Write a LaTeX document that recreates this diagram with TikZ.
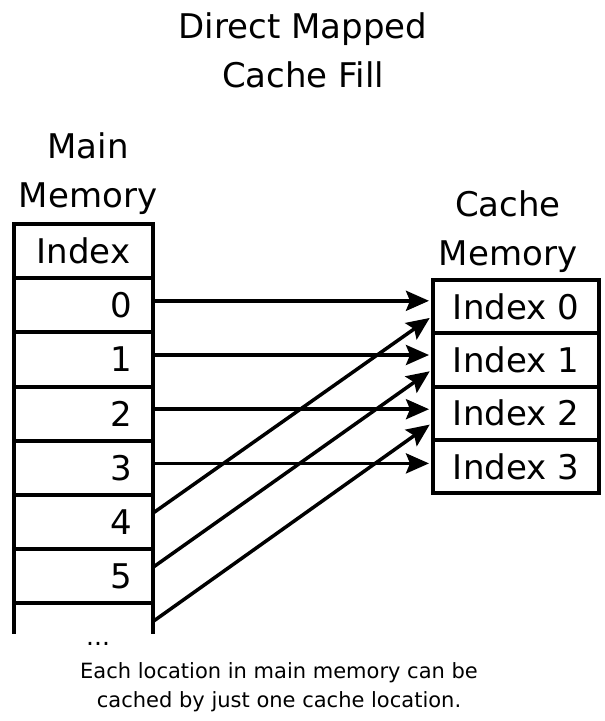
\documentclass[tikz,border=0pt]{standalone}
\usepackage{fontspec}
\setmainfont{DejaVu Sans}
\usetikzlibrary{arrows.meta, positioning}

\tikzset{
  memcell/.style={draw, line width=4pt, rectangle, minimum width=139pt,
    minimum height=54.2pt, inner xsep=21pt, inner ysep=0pt, outer sep=0pt,
    font=\fontsize{34}{40}\selectfont},
  numcell/.style={memcell, text width=97pt, align=right},
  cachecell/.style={draw, line width=4pt, rectangle, minimum width=166pt,
    minimum height=53.3pt, inner sep=0pt, outer sep=0pt,
    font=\fontsize{34}{40}\selectfont},
  heading/.style={align=center, anchor=base, inner sep=0pt,
    font=\fontsize{34}{48.5}\selectfont},
  maparrow/.style={-{Stealth[length=23pt,width=20pt,inset=4pt]}, line width=3.5pt, shorten >=4pt}
}

\begin{document}
\begin{tikzpicture}[x=1pt, y=-1pt]

% Canvas
\fill[white] (0,0) rectangle (605,721);
\useasboundingbox (0,0) rectangle (605,721);

% Titles
\node[heading] (title) at (303,87) {Direct Mapped\\Cache Fill};
\node[heading] (mainlbl) at (88,207) {Main\\Memory};
\node[heading] (cachelbl) at (508,265) {Cache\\Memory};

% Main memory table
\node[memcell] (m) at (83.5,251.1) {Index};
\node[numcell, below=0pt of m] (m0) {0};
\foreach \i [remember=\i as \last (initially 0)] in {1,...,5}
{
    \node[numcell, below=0pt of m\last] (m\i) {\i};
}
% open row at the bottom
\node[memcell, draw=none, below=0pt of m5] (m6) {};
\draw[line width=4pt] (m6.north west) -- ([yshift=24pt]m6.south west);
\draw[line width=4pt] (m6.north east) -- ([yshift=24pt]m6.south east);
\node[anchor=base west, inner sep=0pt, font=\fontsize{25}{29}\selectfont] (dots) at (86,645) {...};

% Cache memory table
\node[cachecell] (c0) at (516,306.65) {Index 0};
\foreach \i [remember=\i as \last (initially 0)] in {1,2,3}
{
    \node[cachecell, below=0pt of c\last] (c\i) {Index \i};
}

% Mapping arrows
\foreach \i in {0,...,3}
{
    \draw[maparrow] ([yshift=4.5pt]m\i.east) -- ([yshift=4.5pt]m\i.east -| c\i.west);
}
\foreach \s/\t in {4/0, 5/1, 6/2}
{
    \draw[maparrow] ([yshift=9pt]m\s.east) -- ([yshift=-9pt]c\t.west);
}

% Caption
\node[heading, font=\fontsize{21}{29}\selectfont] (caption) at (279,707)
    {Each location in main memory can be\\cached by just one cache location.};

\end{tikzpicture}
\end{document}
